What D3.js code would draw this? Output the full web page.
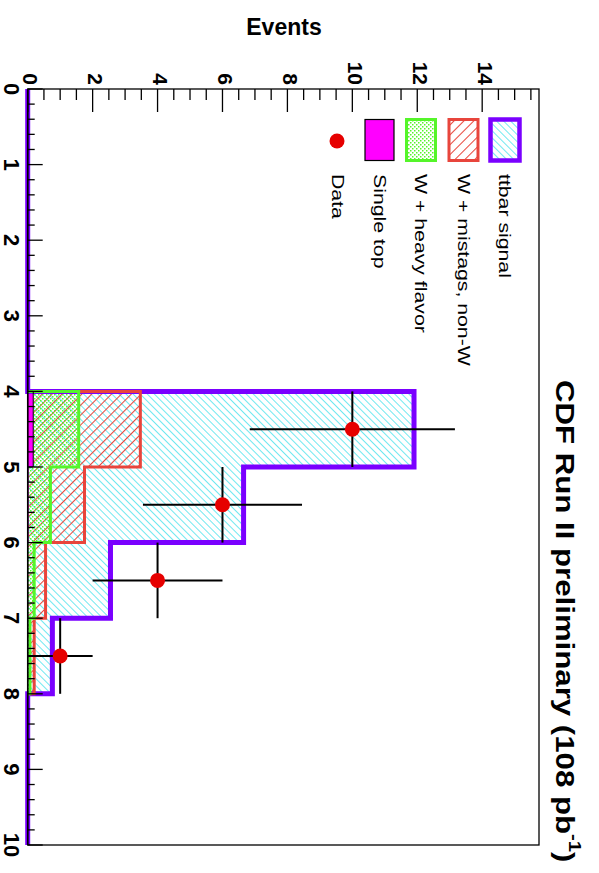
<!DOCTYPE html>
<html>
<head>
<meta charset="utf-8">
<script src="https://cdn.jsdelivr.net/npm/d3@7"></script>
<style>
  body { margin: 0; background: #fff; }
  svg { display: block; }
  text { font-family: "Liberation Sans", Arial, Helvetica, sans-serif; }
</style>
</head>
<body>
<script>
// Set SVG width and height
var width = 599,
    height = 873;

// bins (lower edges) and stacked contributions per bin
const binLow      = [0, 1, 2, 3, 4, 5, 6, 7, 8, 9];
const singleTop   = [0, 0, 0, 0, 0.17, 0.03, 0.01, 0, 0, 0];
const heavyFlavor = [0, 0, 0, 0, 1.40, 0.67, 0.19, 0.07, 0, 0];
const mistags     = [0, 0, 0, 0, 1.90, 1.05, 0.35, 0.13, 0, 0];
const ttbar       = [0, 0, 0, 0, 8.43, 4.90, 2.00, 0.56, 0, 0];

// data points
const dataX   = [4.5, 5.5, 6.5, 7.5];
const dataY   = [10, 6, 4, 1];
const dataErr = [3.16, 2.45, 2.0, 1.0];

const eventTicks = [0, 2, 4, 6, 8, 10, 12, 14];
const binTicks   = [0, 1, 2, 3, 4, 5, 6, 7, 8, 9, 10];
const legendNames = ["ttbar signal", "W + mistags, non-W", "W + heavy flavor", "Single top", "Data"];

// the picture is a ROOT plot turned a quarter turn clockwise:
// events run left -> right along the top, bins run top -> bottom
const x = d3.scaleLinear().domain([0, 15.75]).range([27.7, 539]);
const y = d3.scaleLinear().domain([0, 10]).range([89, 845]);

const purple = '#7a00ff', red = '#e8453c', green = '#55f52a', cyan = '#70e8f0';

var svg = d3.select('body').append('svg')
    .attr('width', width)
    .attr('height', height);

/******* patterns ********/
var defs = svg.append('defs');
defs.append('pattern')
    .attr('id', 'hCyan').attr('patternUnits', 'userSpaceOnUse')
    .attr('width', 5).attr('height', 5)
    .attr('patternTransform', 'rotate(-45)')
  .append('line')
    .attr('x1', 0.5).attr('y1', 0).attr('x2', 0.5).attr('y2', 5)
    .attr('stroke', cyan).attr('stroke-width', 1);
defs.append('pattern')
    .attr('id', 'hRed').attr('patternUnits', 'userSpaceOnUse')
    .attr('width', 7).attr('height', 7)
    .attr('patternTransform', 'rotate(45)')
  .append('line')
    .attr('x1', 0.5).attr('y1', 0).attr('x2', 0.5).attr('y2', 7)
    .attr('stroke', red).attr('stroke-width', 1.1);
var pg = defs.append('pattern')
    .attr('id', 'dGreen').attr('patternUnits', 'userSpaceOnUse')
    .attr('width', 4).attr('height', 4);
pg.append('rect').attr('x', 0).attr('y', 0).attr('width', 1.5).attr('height', 1.5).attr('fill', green);
pg.append('rect').attr('x', 2).attr('y', 2).attr('width', 1.5).attr('height', 1.5).attr('fill', green);

/******* stack ********/
var rows = binLow.map(function(b, i) {
  return { b: b, singleTop: singleTop[i], heavyFlavor: heavyFlavor[i], mistags: mistags[i], ttbar: ttbar[i] };
});
var stacked = d3.stack().keys(['singleTop', 'heavyFlavor', 'mistags', 'ttbar'])(rows);
var totals = {};
stacked.forEach(function(s) { totals[s.key] = s.map(function(d) { return d[1]; }); });

// step outline of a cumulative histogram between bin indexes i0..i1
function stepPoints(vals, i0, i1) {
  var pts = [[x(0), y(binLow[i0])]];
  for (var i = i0; i <= i1; i++) {
    pts.push([x(vals[i]), y(binLow[i])]);
    pts.push([x(vals[i]), y(binLow[i] + 1)]);
  }
  pts.push([x(0), y(binLow[i1] + 1)]);
  return pts;
}
var line = d3.line();

var hists = [
  { key: 'ttbar', fill: 'url(#hCyan)', stroke: purple, sw: 5, i0: 0, i1: 9 },
  { key: 'mistags', fill: 'url(#hRed)', stroke: red, sw: 3, i0: 4, i1: 7 },
  { key: 'heavyFlavor', fill: 'url(#dGreen)', stroke: green, sw: 3, i0: 4, i1: 7 },
  { key: 'singleTop', fill: '#ff00ff', stroke: '#000', sw: 1, i0: 4, i1: 4 }
];

var plot = svg.append('g');
hists.forEach(function(h) {
  plot.append('path')
      .attr('d', line(stepPoints(totals[h.key], 4, 7)) + 'Z')
      .attr('fill', h.fill)
      .attr('stroke', 'none');
});
hists.forEach(function(h) {
  plot.append('path')
      .attr('d', line(stepPoints(totals[h.key], h.i0, h.i1)))
      .attr('fill', 'none')
      .attr('stroke', h.stroke)
      .attr('stroke-width', h.sw)
      .attr('stroke-linejoin', 'miter');
});

/******* frame and axes ********/
svg.append('rect')
    .attr('x', x(0)).attr('y', y(0))
    .attr('width', x(15.75) - x(0)).attr('height', y(10) - y(0))
    .attr('fill', 'none').attr('stroke', '#000').attr('stroke-width', 1.3);

// events axis along the top, ticks point into the plot
var evAxis = svg.append('g');
d3.range(0, 15.75, 0.5).forEach(function(v) {
  var major = eventTicks.indexOf(v) >= 0;
  evAxis.append('line')
      .attr('x1', x(v)).attr('x2', x(v))
      .attr('y1', y(0)).attr('y2', y(0) + (major ? 23 : 11))
      .attr('stroke', '#000').attr('stroke-width', 1.3);
});
evAxis.selectAll('text')
    .data(eventTicks)
    .enter()
    .append('text')
    .attr('transform', function(d) { return 'translate(' + (x(d) + 3) + ',' + 85 + ') rotate(90)'; })
    .attr('text-anchor', 'end')
    .attr('dominant-baseline', 'central')
    .attr('font-size', 21)
    .attr('font-weight', 'bold')
    .text(function(d) { return d; });

// bins axis along the left
var binAxis = svg.append('g');
d3.range(0, 10.01, 0.2).forEach(function(v) {
  var major = Math.abs(v - Math.round(v)) < 1e-6;
  binAxis.append('line')
      .attr('x1', x(0)).attr('x2', x(0) + (major ? 15 : 7))
      .attr('y1', y(v)).attr('y2', y(v))
      .attr('stroke', '#000').attr('stroke-width', 1.3);
});
binAxis.append('line')
    .attr('x1', x(0)).attr('x2', x(0)).attr('y1', y(0)).attr('y2', y(10))
    .attr('stroke', '#000').attr('stroke-width', 1.5);
binAxis.selectAll('text')
    .data(binTicks)
    .enter()
    .append('text')
    .attr('transform', function(d) { return 'translate(' + 11 + ',' + y(d) + ') rotate(90)'; })
    .attr('text-anchor', 'middle')
    .attr('dominant-baseline', 'central')
    .attr('font-size', 22)
    .attr('font-weight', 'bold')
    .text(function(d) { return d; });

svg.append('text')
    .attr('x', 284).attr('y', 35)
    .attr('text-anchor', 'middle')
    .attr('font-size', 23)
    .attr('font-weight', 'bold')
    .text('Events');

/******* data ********/
var pts = svg.append('g');
dataX.forEach(function(b, i) {
  pts.append('line')
      .attr('x1', x(dataY[i] - dataErr[i])).attr('x2', x(dataY[i] + dataErr[i]))
      .attr('y1', y(b)).attr('y2', y(b))
      .attr('stroke', '#000').attr('stroke-width', 2);
  pts.append('line')
      .attr('x1', x(dataY[i])).attr('x2', x(dataY[i]))
      .attr('y1', y(b - 0.5)).attr('y2', y(b + 0.5))
      .attr('stroke', '#000').attr('stroke-width', 2);
  pts.append('circle')
      .attr('cx', x(dataY[i])).attr('cy', y(b))
      .attr('r', 7.5)
      .attr('fill', '#e60000');
});

/******* legend ********/
var leg = svg.append('g');
var legFill = ['url(#hCyan)', 'url(#hRed)', 'url(#dGreen)', '#ff00ff'];
var legStroke = [purple, red, green, '#000'];
var legSw = [4.5, 3, 3, 1.2];
var legX = [505, 463.5, 421, 379.5, 338];
legendNames.forEach(function(name, i) {
  if (i < 4) {
    leg.append('rect')
        .attr('x', legX[i] - 14.5).attr('y', 119.5)
        .attr('width', 29).attr('height', 41)
        .attr('fill', legFill[i])
        .attr('stroke', legStroke[i])
        .attr('stroke-width', legSw[i]);
  } else {
    leg.append('circle')
        .attr('cx', legX[i] - 1).attr('cy', 141)
        .attr('r', 7.5)
        .attr('fill', '#e60000');
  }
  leg.append('text')
      .attr('transform', 'translate(' + legX[i] + ',174) rotate(90) scale(1.25,1)')
      .attr('dominant-baseline', 'central')
      .attr('font-size', 17)
      .text(name);
});

/******* title ********/
var title = svg.append('text')
    .attr('transform', 'translate(565,380) rotate(90) scale(1.2,1)')
    .attr('dominant-baseline', 'central')
    .attr('font-size', 26)
    .attr('font-weight', 'bold');
title.append('tspan').text('CDF Run II preliminary (108 pb');
title.append('tspan').attr('font-size', 17).attr('dy', -10).text('-1');
title.append('tspan').attr('dy', 10).text(')');
</script>
</body>
</html>
